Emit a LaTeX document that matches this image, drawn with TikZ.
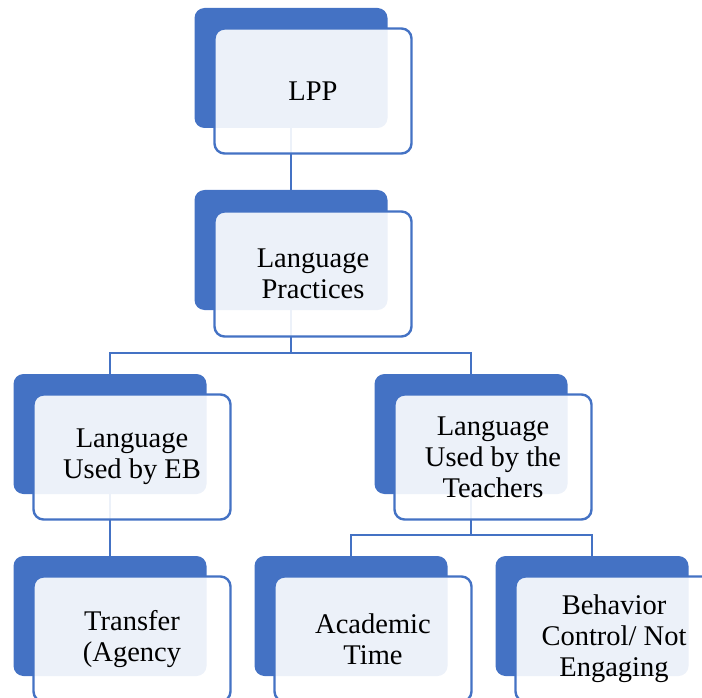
\documentclass[tikz,border=0pt]{standalone}
\usepackage{fontspec}
\setmainfont{Liberation Serif}
\definecolor{acc}{HTML}{4472C4}
\begin{document}
\begin{tikzpicture}[x=1pt,y=-1pt,
 backbox/.style={fill=acc, rounded corners=10pt, minimum width=193pt, minimum height=120pt, inner sep=0pt},
 frontbox/.style={draw=acc, line width=2.4pt, fill=white, fill opacity=0.9, text opacity=1, rounded corners=10pt, minimum width=197pt, minimum height=125pt, inner sep=0pt, align=center, font=\fontsize{28.5}{31}\selectfont},
 link/.style={draw=acc, line width=2.4pt}]
\useasboundingbox (0,0) rectangle (702,698);
\clip (0,0) rectangle (702,698);
% back boxes
\node[backbox] (b1) at (291,68) {};
\node[backbox] (b2) at (291,250) {};
\node[backbox] (b3l) at (110,434) {};
\node[backbox] (b3r) at (471,434) {};
\node[backbox] (b4a) at (110,616) {};
\node[backbox] (b4b) at (351,616) {};
\node[backbox] (b4c) at (592,616) {};
% connectors
\coordinate (bus2) at (291,353);
\coordinate (bus3) at (471,535);
\draw[link] (b1.south) -- (b2.north);
\draw[link] (b2.south) -- (bus2);
\draw[link] (bus2) -| (b3l.north);
\draw[link] (bus2) -| (b3r.north);
\draw[link] (b3l.south) -- (b4a.north);
\draw[link] (b3r.south) -- (bus3);
\draw[link] (bus3) -| (b4b.north);
\draw[link] (bus3) -| (b4c.north);
% front boxes
\node[frontbox] (f1) at (313,91) {LPP};
\node[frontbox] (f2) at (313,274) {Language\\Practices};
\node[frontbox] (f3l) at (132,457) {Language\\Used by EB};
\node[frontbox] (f3r) at (493,457) {Language\\Used by the\\Teachers};
\node[frontbox] (f4a) at (132,639) {Transfer\\(Agency};
\node[frontbox] (f4b) at (373,639) {Academic\\Time};
\node[frontbox] (f4c) at (614,639) {Behavior\\Control/ Not\\Engaging};
\end{tikzpicture}
\end{document}
